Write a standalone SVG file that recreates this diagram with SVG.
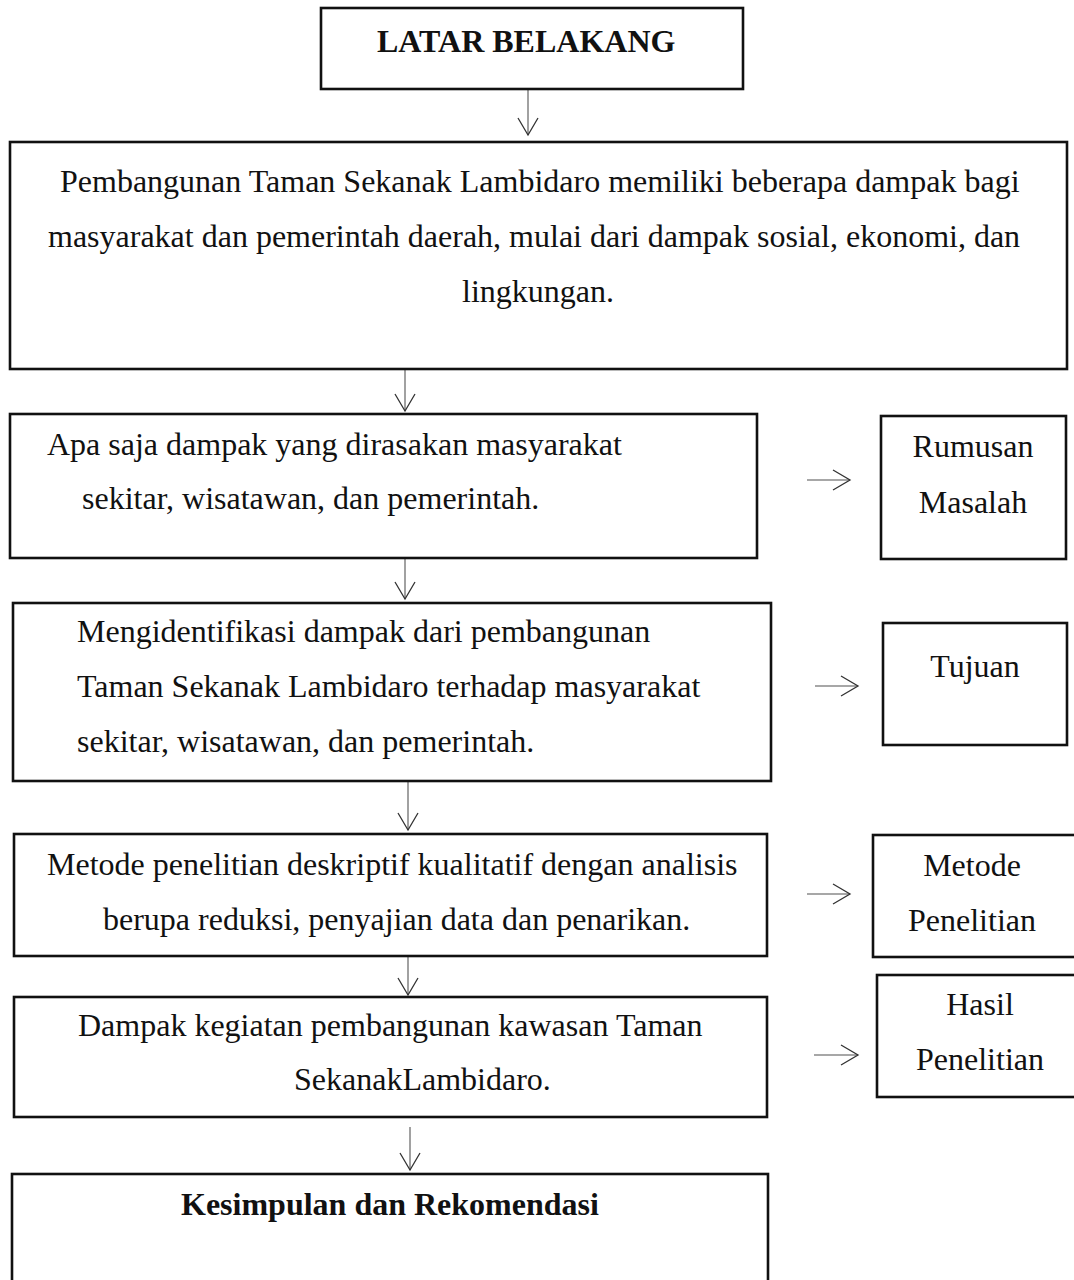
<svg xmlns="http://www.w3.org/2000/svg" width="1074" height="1280" viewBox="0 0 1074 1280">
<style>
  .box { fill: #ffffff; stroke: #111111; stroke-width: 2.6; }
  .t { font-family: "Liberation Serif", "Times New Roman", serif; font-size: 32px; fill: #111111; }
  .b { font-weight: bold; }
  .c { text-anchor: middle; }
  .con { stroke: #8a8a8a; stroke-width: 1.6; fill: none; marker-end: url(#arr); }
</style>
<defs>
  <marker id="arr" viewBox="0 0 20 22" markerWidth="20" markerHeight="22" refX="18" refY="11" orient="auto" markerUnits="userSpaceOnUse">
    <path d="M1,1 L18,11 L1,21" fill="none" stroke="#333333" stroke-width="1.3"/>
  </marker>
</defs>
<rect width="1074" height="1280" fill="#ffffff"/>

<g id="connectors">
  <line class="con" x1="528" y1="90" x2="528" y2="135"/>
  <line class="con" x1="405" y1="370" x2="405" y2="411"/>
  <line class="con" x1="405" y1="559" x2="405" y2="599"/>
  <line class="con" x1="408" y1="782" x2="408" y2="830"/>
  <line class="con" x1="408" y1="957" x2="408" y2="995"/>
  <line class="con" x1="410" y1="1127" x2="410" y2="1170"/>
  <line class="con" x1="807" y1="480" x2="850" y2="480"/>
  <line class="con" x1="815" y1="686" x2="858" y2="686"/>
  <line class="con" x1="807" y1="894" x2="850" y2="894"/>
  <line class="con" x1="814" y1="1055" x2="858" y2="1055"/>
</g>

<g id="latar-belakang">
  <rect class="box" x="321" y="8" width="422" height="81"/>
  <text class="t b" x="377" y="52">LATAR BELAKANG</text>
</g>

<g id="pembangunan">
  <rect class="box" x="10" y="142" width="1057" height="227"/>
  <text class="t" x="60" y="192">Pembangunan Taman Sekanak Lambidaro memiliki beberapa dampak bagi</text>
  <text class="t" x="48" y="247">masyarakat dan pemerintah daerah, mulai dari dampak sosial, ekonomi, dan</text>
  <text class="t" x="462" y="302">lingkungan.</text>
</g>

<g id="apa-saja">
  <rect class="box" x="10" y="414" width="747" height="144"/>
  <text class="t" x="47" y="455">Apa saja dampak yang dirasakan masyarakat</text>
  <text class="t" x="82" y="509">sekitar, wisatawan, dan pemerintah.</text>
</g>

<g id="rumusan-masalah">
  <rect class="box" x="881" y="416" width="185" height="143"/>
  <text class="t c" x="973" y="457">Rumusan</text>
  <text class="t c" x="973" y="513">Masalah</text>
</g>

<g id="mengidentifikasi">
  <rect class="box" x="13" y="603" width="758" height="178"/>
  <text class="t" x="77" y="642">Mengidentifikasi dampak dari pembangunan</text>
  <text class="t" x="77" y="697">Taman Sekanak Lambidaro terhadap masyarakat</text>
  <text class="t" x="77" y="752">sekitar, wisatawan, dan pemerintah.</text>
</g>

<g id="tujuan">
  <rect class="box" x="883" y="623" width="184" height="122"/>
  <text class="t c" x="975" y="677">Tujuan</text>
</g>

<g id="metode">
  <rect class="box" x="14" y="834" width="753" height="122"/>
  <text class="t" x="47" y="875">Metode penelitian deskriptif kualitatif dengan analisis</text>
  <text class="t" x="103" y="930">berupa reduksi, penyajian data dan penarikan.</text>
</g>

<g id="metode-penelitian">
  <rect class="box" x="873" y="835" width="210" height="122"/>
  <text class="t c" x="972" y="876">Metode</text>
  <text class="t c" x="972" y="931">Penelitian</text>
</g>

<g id="dampak">
  <rect class="box" x="14" y="997" width="753" height="120"/>
  <text class="t" x="78" y="1036">Dampak kegiatan pembangunan kawasan Taman</text>
  <text class="t" x="294" y="1090">SekanakLambidaro.</text>
</g>

<g id="hasil-penelitian">
  <rect class="box" x="877" y="975" width="210" height="122"/>
  <text class="t c" x="980" y="1015">Hasil</text>
  <text class="t c" x="980" y="1070">Penelitian</text>
</g>

<g id="kesimpulan">
  <rect class="box" x="12" y="1174" width="756" height="130"/>
  <text class="t b" x="181" y="1215">Kesimpulan dan Rekomendasi</text>
</g>
</svg>
